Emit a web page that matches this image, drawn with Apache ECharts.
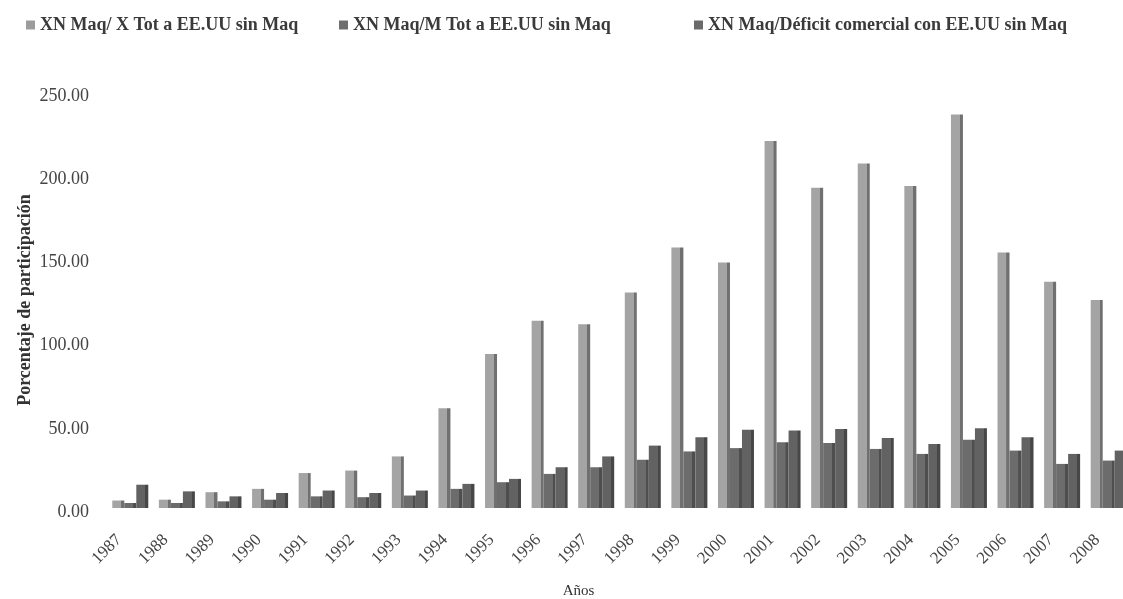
<!DOCTYPE html>
<html>
<head>
<meta charset="utf-8">
<script src="https://cdn.jsdelivr.net/npm/echarts@6/dist/echarts.min.js"></script>
<style>
html,body{margin:0;padding:0;background:#fff;}
#chart{width:1123px;height:599px;}
</style>
</head>
<body>
<div id="chart"></div>
<script>
const years = ['1987','1988','1989','1990','1991','1992','1993','1994','1995','1996','1997','1998','1999','2000','2001','2002','2003','2004','2005','2006','2007','2008'];
const seriesNames = ['XN Maq/ X Tot a EE.UU sin Maq','XN Maq/M Tot a EE.UU sin Maq','XN Maq/Déficit comercial con EE.UU sin Maq'];
const xnX = [4.5, 5, 9.5, 11.5, 21, 22.5, 31, 60, 92.5, 112.5, 110.5, 129.5, 156.5, 147.5, 220.5, 192.5, 207, 193.5, 236.5, 153.5, 136, 125];
const xnM = [3, 3, 4, 5, 7, 6.5, 7.5, 11.5, 15.5, 20.5, 24.5, 29, 34, 36, 39.5, 39, 35.5, 32.5, 41, 34.5, 26.5, 28.5];
const xnDef = [14, 10, 7, 9, 10.5, 9, 10.5, 14.5, 17.5, 24.5, 31, 37.5, 42.5, 47, 46.5, 47.5, 42, 38.5, 48, 42.5, 32.5, 34.5];
const yTicks = [0, 50, 100, 150, 200, 250];

function grad(front, side){
  return new echarts.graphic.LinearGradient(0,0,1,0,[
    {offset:0, color:front},{offset:0.74, color:front},
    {offset:0.75, color:side},{offset:1, color:side}
  ]);
}
const serif = '"Liberation Serif", "DejaVu Serif", serif';
const chart = echarts.init(document.getElementById('chart'));
const data = [xnX, xnM, xnDef];
const fronts = ['#a4a4a4','#6c6c6c','#626262'];
const sides = ['#707070','#4e4e4e','#474747'];
const legendColors = ['#9c9c9c','#6e6e6e','#6a6a6a'];
const legendLefts = [21, 334, 689];
chart.setOption({
  animation:false,
  backgroundColor:'#fff',
  textStyle:{fontFamily:serif},
  legend: seriesNames.map((n,i)=>({
    left:legendLefts[i], top:11,
    itemWidth:9, itemHeight:9, itemGap:6,
    icon:'rect',
    textStyle:{fontFamily:serif, fontWeight:'bold', fontSize:18, color:'#3a3a3a'},
    data:[{name:n, itemStyle:{color:legendColors[i]}}]
  })),
  grid:{left:107, width:1025, top:92, bottom:91, containLabel:false, outerBoundsMode:'none'},
  xAxis:{
    type:'category', data:years,
    name:'Años', nameLocation:'middle', nameGap:76, nameMoveOverlap:false,
    nameTextStyle:{fontFamily:serif, fontSize:15, color:'#333', padding:[0,82,0,0]},
    axisLine:{show:false}, axisTick:{show:false},
    axisLabel:{rotate:45, margin:18, padding:[0,16,0,0], fontFamily:serif, fontSize:17, color:'#444', interval:0}
  },
  yAxis:{
    type:'value', min:yTicks[0], max:yTicks[yTicks.length-1], interval:50,
    name:'Porcentaje de participación', nameLocation:'middle', nameGap:73, nameMoveOverlap:false,
    nameTextStyle:{fontFamily:serif, fontSize:18, fontWeight:'bold', color:'#333'},
    axisLine:{show:false}, axisTick:{show:false}, splitLine:{show:false},
    axisLabel:{
      margin:18, fontFamily:serif, fontSize:18, color:'#444',
      formatter:v=>'{a|' + v.toFixed(2) + '}',
      rich:{a:{fontFamily:serif, fontSize:18, color:'#444', padding:[8,0,0,0]}}
    }
  },
  series: seriesNames.map((n,i)=>({
    name:n, type:'bar', data:data[i], barWidth:12, barGap:'0%',
    itemStyle:{color:grad(fronts[i], sides[i])}
  }))
});
</script>
</body>
</html>
